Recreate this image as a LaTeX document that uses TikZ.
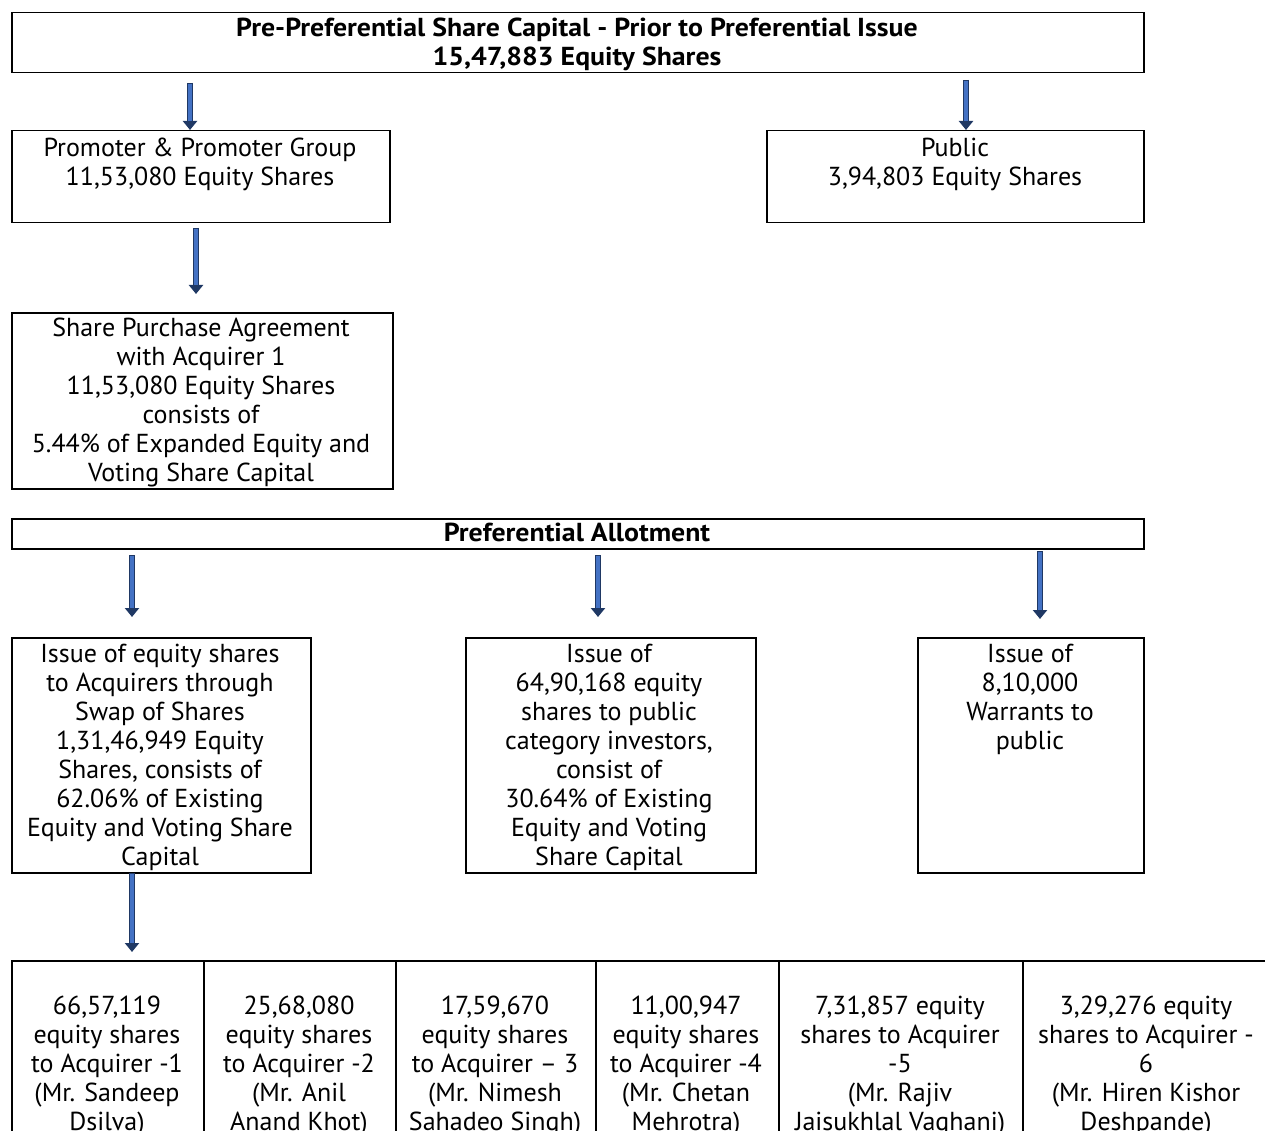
\documentclass[tikz,border=0pt]{standalone}
\usepackage{fontspec}
\setmainfont{PT Sans}
\usetikzlibrary{arrows.meta}
\definecolor{arrblue}{HTML}{4472C4}
\definecolor{arrnavy}{HTML}{1F3864}
\newcommand\blockarr[2]{%
  \draw[line width=6.5pt, arrnavy, -{Triangle[width=14pt,length=9pt]}] (#1) -- (#2);
  \draw[line width=3.6pt, arrblue, shorten >=9pt, shorten <=1pt] (#1) -- (#2);
}
\begin{document}
\begin{tikzpicture}[x=1pt,y=-1pt,
  box/.style={draw, line width=1.5pt, inner sep=0pt, anchor=north west},
  txt/.style={anchor=north, inner sep=0pt, align=center, font=\fontsize{26}{29}\selectfont},
  btxt/.style={txt, font=\fontsize{26}{29}\selectfont\bfseries\addfontfeatures{FakeStretch=1.07}}]
\useasboundingbox (0,0) rectangle (1265,1131);
\clip (0,0) rectangle (1265,1131);
% boxes
\node[box, minimum width=1132pt, minimum height=60pt] (top) at (11,12) {};
\node[box, minimum width=378pt, minimum height=92pt] (prom) at (11,130) {};
\node[box, minimum width=377pt, minimum height=92pt] (pub) at (766,130) {};
\node[box, minimum width=381pt, minimum height=176pt] (spa) at (11,312) {};
\node[box, minimum width=1132pt, minimum height=30pt] (pa) at (11,518) {};
\node[box, minimum width=299pt, minimum height=235pt] (ia) at (11,637) {};
\node[box, minimum width=290pt, minimum height=235pt] (ib) at (465,637) {};
\node[box, minimum width=226pt, minimum height=235pt] (ic) at (917,637) {};
% table cells
\node[box, minimum width=192pt, minimum height=260pt] (c1) at (11,960) {};
\node[box, minimum width=192pt, minimum height=260pt] (c2) at (203,960) {};
\node[box, minimum width=200pt, minimum height=260pt] (c3) at (395,960) {};
\node[box, minimum width=183pt, minimum height=260pt] (c4) at (595,960) {};
\node[box, minimum width=244pt, minimum height=260pt] (c5) at (778,960) {};
\node[box, minimum width=260pt, minimum height=260pt] (c6) at (1022,960) {};
% texts
\node[btxt] (ttop) at (577,18) {Pre-Preferential Share Capital - Prior to Preferential Issue\\15,47,883 Equity Shares};
\node[txt] (tprom) at (200,138) {Promoter \& Promoter Group\\11,53,080 Equity Shares};
\node[txt] (tpub) at (955,138) {Public\\3,94,803 Equity Shares};
\node[txt] (tspa) at (201,318) {Share Purchase Agreement\\with Acquirer 1\\11,53,080 Equity Shares\\consists of\\5.44\% of Expanded Equity and\\Voting Share Capital};
\node[btxt] (tpa) at (577,523) {Preferential Allotment};
\node[txt] (tia) at (160,644) {Issue of equity shares\\to Acquirers through\\Swap of Shares\\1,31,46,949 Equity\\Shares, consists of\\62.06\% of Existing\\Equity and Voting Share\\Capital};
\node[txt] (tib) at (609,644) {Issue of\\64,90,168 equity\\shares to public\\category investors,\\consist of\\30.64\% of Existing\\Equity and Voting\\Share Capital};
\node[txt] (tic) at (1030,644) {Issue of\\8,10,000\\Warrants to\\public};
\node[txt] (t1) at (107,996) {66,57,119\\equity shares\\to Acquirer -1\\(Mr. Sandeep\\Dsilva)};
\node[txt] (t2) at (299,996) {25,68,080\\equity shares\\to Acquirer -2\\(Mr. Anil\\Anand Khot)};
\node[txt] (t3) at (495,996) {17,59,670\\equity shares\\to Acquirer – 3\\(Mr. Nimesh\\Sahadeo Singh)};
\node[txt] (t4) at (686,996) {11,00,947\\equity shares\\to Acquirer -4\\(Mr. Chetan\\Mehrotra)};
\node[txt] (t5) at (900,996) {7,31,857 equity\\shares to Acquirer\\-5\\(Mr. Rajiv\\Jaisukhlal Vaghani)};
\node[txt] (t6) at (1146,996) {3,29,276 equity\\shares to Acquirer -\\6\\(Mr. Hiren Kishor\\Deshpande)};
% arrows
\coordinate (s1) at (190,83);
\coordinate (s2) at (966,80);
\coordinate (s3) at (196,228);
\coordinate (e3) at (196,294);
\coordinate (s4) at (132,555);
\coordinate (e4) at (132,617);
\coordinate (s5) at (598,555);
\coordinate (e5) at (598,617);
\coordinate (s6) at (1040,551);
\coordinate (e6) at (1040,619);
\coordinate (s7) at (132,873);
\coordinate (e7) at (132,952);
\blockarr{s1}{s1 |- prom.north}
\blockarr{s2}{s2 |- pub.north}
\blockarr{s3}{e3}
\blockarr{s4}{e4}
\blockarr{s5}{e5}
\blockarr{s6}{e6}
\blockarr{s7}{e7}
\end{tikzpicture}
\end{document}
